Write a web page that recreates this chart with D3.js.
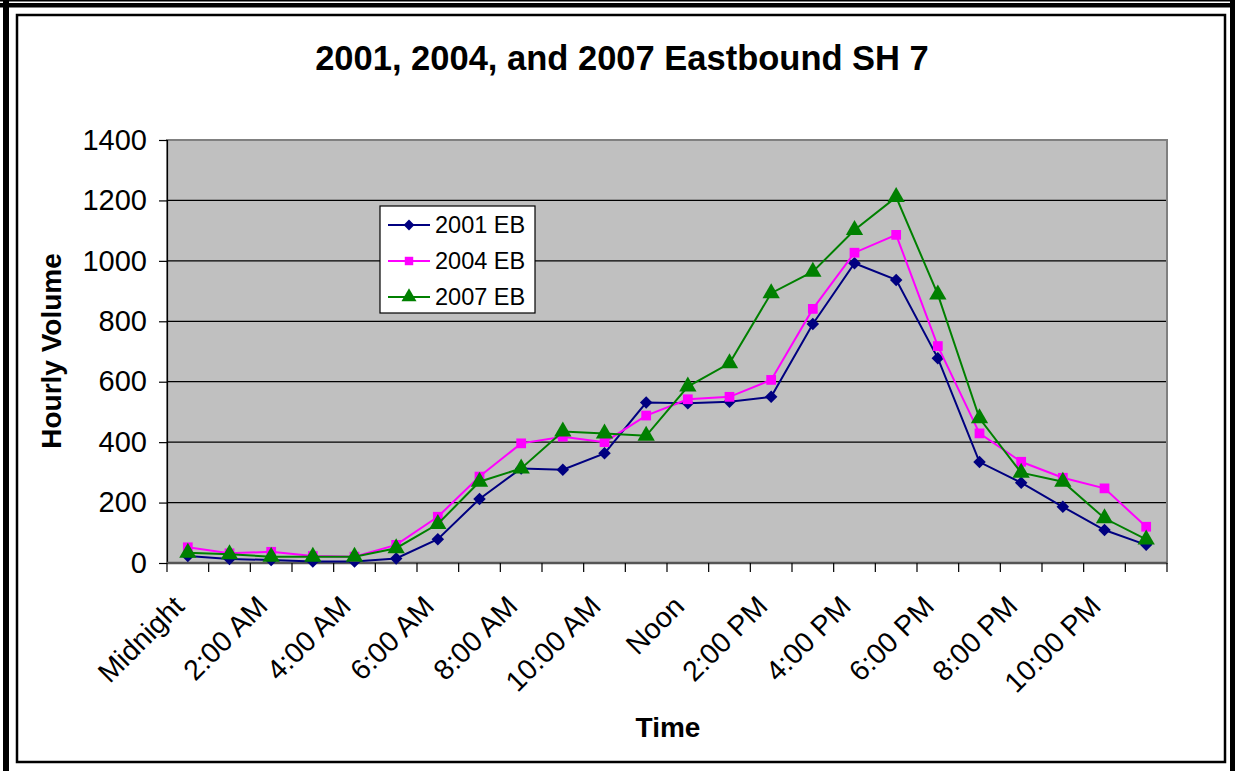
<!DOCTYPE html>
<html>
<head>
<meta charset="utf-8">
<script src="https://cdn.jsdelivr.net/npm/d3@7"></script>
<style>
    body { margin: 0; background: #fff; }
    text { font-family: "Liberation Sans", Arial, sans-serif; }
</style>
</head>
<body>
<div id="main"></div>
<script>
// hourly volumes, eastbound SH 7
const HOURS = ["Midnight", "1:00 AM", "2:00 AM", "3:00 AM", "4:00 AM", "5:00 AM",
    "6:00 AM", "7:00 AM", "8:00 AM", "9:00 AM", "10:00 AM", "11:00 AM",
    "Noon", "1:00 PM", "2:00 PM", "3:00 PM", "4:00 PM", "5:00 PM",
    "6:00 PM", "7:00 PM", "8:00 PM", "9:00 PM", "10:00 PM", "11:00 PM"];
const EB_2001 = [23, 13, 10, 5, 5, 15, 79, 212, 313, 309, 363, 531,
    529, 534, 550, 791, 992, 937, 678, 334, 266, 186, 109, 60];
const EB_2004 = [52, 32, 37, 23, 21, 60, 153, 286, 396, 418, 400, 488,
    542, 550, 606, 841, 1027, 1086, 718, 429, 335, 282, 247, 120];
const EB_2007 = [34, 29, 21, 21, 21, 49, 129, 269, 313, 435, 429, 421,
    584, 661, 893, 964, 1102, 1211, 889, 479, 299, 269, 148, 78];
const SERIES_NAMES = ["2001 EB", "2004 EB", "2007 EB"];
const Y_TICKS = [0, 200, 400, 600, 800, 1000, 1200, 1400];

const ctx = {
    w: 1235,
    h: 771,
    plot: { x0: 167, x1: 1167, y0: 140, y1: 563 },
    colors: ["#000080", "#FF00FF", "#008000"],
    symbols: [d3.symbolSquare, d3.symbolSquare, d3.symbolTriangle],
    symSizes: [78, 95, 130],
    symRot: [45, 0, 0]
};

function createViz() {
    let svgEl = d3.select("#main").append("svg")
        .attr("width", ctx.w)
        .attr("height", ctx.h);
    drawFrame(svgEl);
    drawAxes(svgEl);
    drawLines(svgEl);
    drawLegend(svgEl);
    drawTitles(svgEl);
}

function drawFrame(svgEl) {
    svgEl.append("rect").attr("width", ctx.w).attr("height", ctx.h).attr("fill", "#fff");
    // outer thick border (double line at top)
    svgEl.append("rect").attr("x", 0).attr("y", 0).attr("width", ctx.w).attr("height", 1.5).attr("fill", "#000");
    svgEl.append("rect").attr("x", 0).attr("y", 3).attr("width", ctx.w).attr("height", 4.5).attr("fill", "#000");
    svgEl.append("rect").attr("x", 3).attr("y", 0).attr("width", 6).attr("height", ctx.h).attr("fill", "#000");
    svgEl.append("rect").attr("x", 1230).attr("y", 0).attr("width", 5).attr("height", ctx.h).attr("fill", "#000");
    // inner chart area border
    svgEl.append("rect")
        .attr("x", 17).attr("y", 15)
        .attr("width", 1208).attr("height", 747)
        .attr("fill", "none")
        .attr("stroke", "#000")
        .attr("stroke-width", 2.5);
}

function drawAxes(svgEl) {
    let p = ctx.plot;
    ctx.x = d3.scaleBand().domain(HOURS).range([p.x0, p.x1]);
    ctx.y = d3.scaleLinear().domain([0, 1400]).range([p.y1, p.y0]);

    svgEl.append("rect")
        .attr("x", p.x0).attr("y", p.y0)
        .attr("width", p.x1 - p.x0).attr("height", p.y1 - p.y0)
        .attr("fill", "#C0C0C0");

    // gridlines
    svgEl.append("g")
        .selectAll("line")
        .data(Y_TICKS.filter(t => t > 0 && t < 1400))
        .enter()
        .append("line")
        .attr("x1", p.x0).attr("x2", p.x1)
        .attr("y1", d => ctx.y(d)).attr("y2", d => ctx.y(d))
        .attr("stroke", "#000")
        .attr("stroke-width", 1.2);

    // plot border
    svgEl.append("rect")
        .attr("x", p.x0).attr("y", p.y0)
        .attr("width", p.x1 - p.x0).attr("height", p.y1 - p.y0)
        .attr("fill", "none")
        .attr("stroke", "#808080")
        .attr("stroke-width", 2);

    // y axis
    let yAxis = d3.axisLeft(ctx.y).tickValues(Y_TICKS).tickFormat(d3.format("d"))
        .tickSize(8).tickPadding(12);
    let yG = svgEl.append("g")
        .attr("transform", `translate(${p.x0},0)`)
        .call(yAxis);
    yG.select(".domain").attr("stroke", "#000").attr("stroke-width", 1.2);
    yG.selectAll(".tick line").attr("stroke", "#000").attr("stroke-width", 1.2);
    yG.selectAll(".tick text")
        .attr("font-size", 29)
        .attr("fill", "#000")
        .style("font-family", "'Liberation Sans', Arial, sans-serif");

    // x axis: ticks between categories
    let bounds = HOURS.map(h => ctx.x(h)).concat([p.x1]);
    let xG = svgEl.append("g");
    xG.append("line")
        .attr("x1", p.x0).attr("x2", p.x1)
        .attr("y1", p.y1).attr("y2", p.y1)
        .attr("stroke", "#555").attr("stroke-width", 2.5);
    xG.selectAll("line.tk")
        .data(bounds)
        .enter()
        .append("line")
        .attr("class", "tk")
        .attr("x1", d => d).attr("x2", d => d)
        .attr("y1", p.y1).attr("y2", p.y1 + 9)
        .attr("stroke", "#000").attr("stroke-width", 1.2);
    xG.selectAll("text")
        .data(HOURS.filter((h, i) => i % 2 == 0))
        .enter()
        .append("text")
        .attr("transform", d => `translate(${ctx.x(d) + ctx.x.bandwidth() / 2 - 9},${p.y1 + 38}) rotate(-45)`)
        .attr("text-anchor", "end")
        .attr("dy", "0.35em")
        .attr("font-size", 28.5)
        .text(d => d);
}

function drawLines(svgEl) {
    let allSeries = [EB_2001, EB_2004, EB_2007];
    let cx = d => ctx.x(HOURS[d.i]) + ctx.x.bandwidth() / 2;
    let line = d3.line().x(cx).y(d => ctx.y(d.v));
    allSeries.forEach(function (vals, k) {
        let pts = vals.map((v, i) => ({ i: i, v: v }));
        let g = svgEl.append("g").attr("class", "series");
        g.append("path")
            .datum(pts)
            .attr("d", line)
            .attr("fill", "none")
            .attr("stroke", ctx.colors[k])
            .attr("stroke-width", 2);
        g.selectAll("path.mk")
            .data(pts)
            .enter()
            .append("path")
            .attr("class", "mk")
            .attr("d", d3.symbol().type(ctx.symbols[k]).size(ctx.symSizes[k]))
            .attr("transform", d => `translate(${cx(d)},${ctx.y(d.v)}) rotate(${ctx.symRot[k]})`)
            .attr("fill", ctx.colors[k]);
    });
}

function drawLegend(svgEl) {
    let lg = svgEl.append("g").attr("transform", "translate(380,206)");
    lg.append("rect")
        .attr("width", 155).attr("height", 107)
        .attr("fill", "#fff")
        .attr("stroke", "#000")
        .attr("stroke-width", 1.2);
    SERIES_NAMES.forEach(function (name, k) {
        let yy = 19 + k * 36;
        lg.append("line")
            .attr("x1", 8).attr("x2", 50)
            .attr("y1", yy).attr("y2", yy)
            .attr("stroke", ctx.colors[k])
            .attr("stroke-width", 2);
        lg.append("path")
            .attr("d", d3.symbol().type(ctx.symbols[k]).size(ctx.symSizes[k] * 0.75))
            .attr("transform", `translate(29,${yy}) rotate(${ctx.symRot[k]})`)
            .attr("fill", ctx.colors[k]);
        lg.append("text")
            .attr("x", 55).attr("y", yy)
            .attr("dy", "0.36em")
            .attr("font-size", 23.5)
            .text(name);
    });
}

function drawTitles(svgEl) {
    svgEl.append("text")
        .attr("x", 622).attr("y", 70)
        .attr("text-anchor", "middle")
        .attr("font-size", 34.5)
        .attr("font-weight", "bold")
        .text("2001, 2004, and 2007 Eastbound SH 7");
    svgEl.append("text")
        .attr("transform", "translate(61,351) rotate(-90)")
        .attr("text-anchor", "middle")
        .attr("font-size", 28)
        .attr("font-weight", "bold")
        .text("Hourly Volume");
    svgEl.append("text")
        .attr("x", 668).attr("y", 737)
        .attr("text-anchor", "middle")
        .attr("font-size", 28)
        .attr("font-weight", "bold")
        .text("Time");
}

createViz();
</script>
</body>
</html>
